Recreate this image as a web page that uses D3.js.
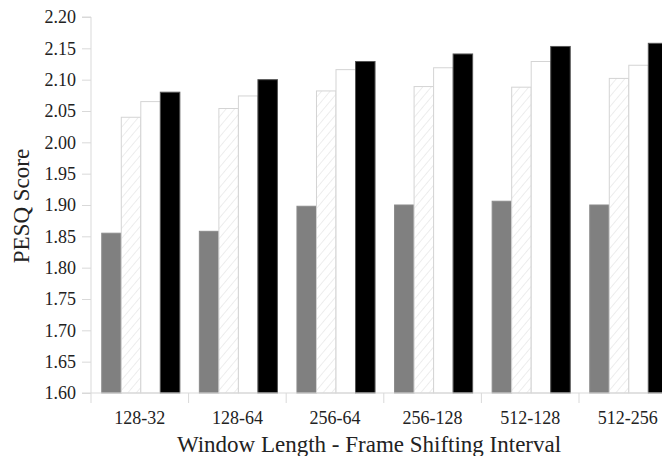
<!DOCTYPE html>
<html>
<head>
<meta charset="utf-8">
<script src="https://cdn.jsdelivr.net/npm/d3@7"></script>
<style>
  html, body { margin: 0; padding: 0; background: #fff; }
  svg { display: block; }
</style>
</head>
<body>
<svg id="chart" width="662" height="456"></svg>
<script>
// PESQ scores per window configuration, four methods each
const categories = ["128-32", "128-64", "256-64", "256-128", "512-128", "512-256"];
const seriesNames = ["s1", "s2", "s3", "s4"];
const s1Values = [1.855, 1.858, 1.898, 1.900, 1.906, 1.900];
const s2Values = [2.040, 2.054, 2.082, 2.089, 2.088, 2.102];
const s3Values = [2.065, 2.074, 2.116, 2.119, 2.129, 2.123];
const s4Values = [2.080, 2.100, 2.129, 2.141, 2.153, 2.158];
const yTicks = [1.60, 1.65, 1.70, 1.75, 1.80, 1.85, 1.90, 1.95, 2.00, 2.05, 2.10, 2.15, 2.20];

const series = [s1Values, s2Values, s3Values, s4Values];
const SERIF = "'Liberation Serif', 'Times New Roman', serif";

const svg = d3.select("#chart");
const plotLeft = 91, plotTop = 17, plotBottom = 393;
const bandW = 97.6;
const plotRight = plotLeft + bandW * categories.length;

// light diagonal hatching for the second series
const defs = svg.append("defs");
const pat = defs.append("pattern")
  .attr("id", "hatch")
  .attr("patternUnits", "userSpaceOnUse")
  .attr("width", 6.5).attr("height", 6.5)
  .attr("patternTransform", "rotate(40)");
pat.append("rect").attr("width", 6.5).attr("height", 6.5).attr("fill", "#fff");
pat.append("line").attr("x1", 0).attr("y1", 0).attr("x2", 0).attr("y2", 6.5)
  .attr("stroke", "#dcdcdc").attr("stroke-width", 1);

const x = d3.scaleBand().domain(categories).range([plotLeft, plotRight]).paddingInner(0).paddingOuter(0);
const xInner = d3.scaleBand().domain(seriesNames).range([0, x.bandwidth()]).paddingOuter(0.5).paddingInner(0);
const y = d3.scaleLinear().domain([1.60, 2.20]).range([plotBottom, plotTop]);

const styles = [
  { fill: "#808080", stroke: "#8a8a8a" },
  { fill: "url(#hatch)", stroke: "#d4d4d4" },
  { fill: "#ffffff", stroke: "#d4d4d4" },
  { fill: "#000000", stroke: "#555" }
];

const groups = svg.append("g").selectAll("g")
  .data(categories)
  .join("g")
  .attr("transform", d => `translate(${x(d) + 1},0)`);

groups.selectAll("rect")
  .data((d, i) => series.map((s, k) => ({ k, v: s[i] })))
  .join("rect")
  .attr("x", d => xInner(seriesNames[d.k]))
  .attr("width", xInner.bandwidth())
  .attr("y", d => y(d.v))
  .attr("height", d => y(1.60) - y(d.v))
  .attr("fill", d => styles[d.k].fill)
  .attr("stroke", d => styles[d.k].stroke)
  .attr("stroke-width", 1);

// Y axis
const yAxis = d3.axisLeft(y).tickValues(yTicks).tickFormat(d3.format(".2f")).tickSize(9).tickPadding(6);
const gy = svg.append("g").attr("transform", `translate(${plotLeft},0)`).call(yAxis)
  .attr("font-family", SERIF).attr("font-size", 18);
gy.select(".domain").attr("stroke", "#d9d9d9").attr("d", `M-9,${plotTop}H0V${plotBottom}H-9`);
gy.selectAll(".tick line").attr("stroke", "#d9d9d9");
gy.selectAll(".tick text").attr("fill", "#222");

// X axis with ticks at category boundaries
const gx = svg.append("g").attr("transform", `translate(0,${plotBottom})`)
  .attr("font-family", SERIF).attr("font-size", 18).attr("fill", "#222");
gx.append("line").attr("x1", plotLeft).attr("x2", plotRight).attr("stroke", "#d9d9d9");
gx.selectAll("line.tk")
  .data(categories.map(c => x(c)).concat([plotRight]))
  .join("line").attr("class", "tk")
  .attr("x1", d => d).attr("x2", d => d).attr("y1", 0).attr("y2", 10)
  .attr("stroke", "#d9d9d9");
gx.selectAll("text")
  .data(categories)
  .join("text")
  .attr("x", d => x(d) + x.bandwidth() / 2)
  .attr("y", 31)
  .attr("text-anchor", "middle")
  .text(d => d);

svg.append("text")
  .attr("transform", `translate(29,206) rotate(-90)`)
  .attr("text-anchor", "middle")
  .attr("font-family", SERIF)
  .attr("font-size", 23)
  .attr("fill", "#222")
  .text("PESQ Score");

svg.append("text")
  .attr("x", 369).attr("y", 452)
  .attr("text-anchor", "middle")
  .attr("font-family", SERIF)
  .attr("font-size", 23)
  .attr("fill", "#222")
  .text("Window Length - Frame Shifting Interval");
</script>
</body>
</html>
